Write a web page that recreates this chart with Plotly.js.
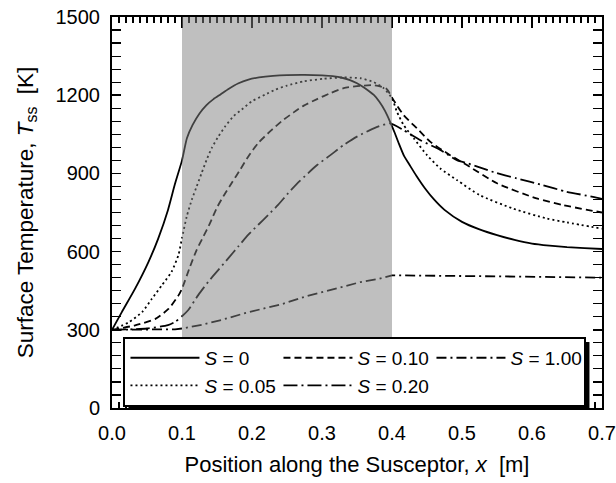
<!DOCTYPE html>
<html>
<head>
<meta charset="utf-8">
<script src="https://cdn.plot.ly/plotly-3.0.1.min.js"></script>
<style>html,body{margin:0;padding:0;background:#fff}#chart{width:616px;height:483px}</style>
</head>
<body>
<div id="chart"></div>
<script>
// ---- data ----
var S0_x = [0, 0.014, 0.033, 0.052, 0.066, 0.08, 0.09, 0.1, 0.107, 0.115, 0.125, 0.135, 0.145, 0.155, 0.167, 0.18, 0.195, 0.21, 0.23, 0.25, 0.275, 0.3, 0.315, 0.33, 0.34, 0.35, 0.362, 0.374, 0.382, 0.39, 0.397, 0.404, 0.41, 0.417, 0.425, 0.435, 0.447, 0.46, 0.475, 0.5, 0.525, 0.55, 0.575, 0.6, 0.625, 0.65, 0.675, 0.7];
var S0_y = [300, 368, 458, 560, 650, 760, 860, 950, 1035, 1085, 1130, 1162, 1185, 1203, 1225, 1245, 1260, 1268, 1274, 1277, 1278, 1276, 1273, 1266, 1258, 1246, 1226, 1201, 1175, 1140, 1100, 1055, 1013, 968, 933, 890, 843, 800, 760, 714, 685, 663, 645, 631, 623, 617, 613, 610];

var S05_x = [0, 0.024, 0.043, 0.057, 0.071, 0.085, 0.095, 0.1, 0.1068, 0.114, 0.121, 0.128, 0.1353, 0.1424, 0.152, 0.1616, 0.1734, 0.1853, 0.1995, 0.2186, 0.233, 0.25, 0.274, 0.302, 0.331, 0.355, 0.374, 0.388, 0.4, 0.407, 0.4165, 0.431, 0.45, 0.469, 0.493, 0.525, 0.573, 0.621, 0.65, 0.7];
var S05_y = [300, 329, 368, 419, 470, 522, 588, 652, 735, 799, 850, 901, 953, 997, 1042, 1080, 1119, 1145, 1176, 1202, 1221, 1237, 1253, 1263, 1268, 1265, 1250, 1227, 1188, 1137, 1086, 1035, 970, 919, 874, 817, 765, 727, 712, 688];

var S10_x = [0, 0.033, 0.062, 0.081, 0.095, 0.1, 0.1116, 0.121, 0.1306, 0.14, 0.1496, 0.159, 0.171, 0.183, 0.1948, 0.209, 0.2258, 0.2423, 0.26, 0.274, 0.293, 0.312, 0.331, 0.355, 0.375, 0.392, 0.402, 0.4165, 0.4356, 0.4545, 0.483, 0.507, 0.55, 0.6065, 0.645, 0.7];
var S10_y = [300, 317, 342, 381, 432, 458, 543, 607, 658, 709, 767, 812, 863, 914, 965, 1017, 1061, 1100, 1135, 1160, 1185, 1208, 1227, 1236, 1238, 1225, 1182, 1124, 1073, 1022, 970, 932, 862, 804, 778, 750];

var S20_x = [0, 0.05, 0.08, 0.09, 0.1, 0.109, 0.1234, 0.1377, 0.152, 0.1663, 0.1805, 0.1948, 0.209, 0.2233, 0.2376, 0.252, 0.268, 0.293, 0.312, 0.331, 0.35, 0.374, 0.3975, 0.4165, 0.44, 0.469, 0.4927, 0.509, 0.545, 0.578, 0.615, 0.649, 0.687, 0.7];
var S20_y = [300, 305, 318, 330, 352, 376, 434, 485, 530, 575, 620, 665, 703, 741, 780, 825, 870, 932, 970, 1009, 1041, 1073, 1092, 1066, 1028, 990, 951, 938, 905, 881, 855, 830, 810, 802];

var S100_x = [0, 0.05, 0.09, 0.1, 0.128, 0.1567, 0.19, 0.2186, 0.2423, 0.279, 0.326, 0.355, 0.382, 0.4, 0.55, 0.7];
var S100_y = [300, 300, 302, 305, 319, 338, 364, 383, 398, 430, 464, 483, 496, 509, 505, 500];

var heatedZone = [0.1, 0.4];
var xTicks = [0, 0.1, 0.2, 0.3, 0.4, 0.5, 0.6, 0.7];
var yTicks = [0, 300, 600, 900, 1200, 1500];

var FONT = '"Liberation Sans", Arial, Helvetica, sans-serif';

function tr(x, y, name, dash, shape) {
  return {x: x, y: y, name: name, type: 'scatter', mode: 'lines',
          line: {color: '#000', width: 1.8, dash: dash, shape: shape, smoothing: 0.6}, hoverinfo: 'skip'};
}

var data = [
  tr(S0_x, S0_y, '<i>S</i> = 0', 'solid', 'spline'),
  tr(S10_x, S10_y, '<i>S</i> = 0.10', '7px,4px', 'spline'),
  tr(S100_x, S100_y, '<i>S</i> = 1.00', '10px,4px,2px,4px', 'linear'),
  tr(S05_x, S05_y, '<i>S</i> = 0.05', '2px,3px', 'spline'),
  tr(S20_x, S20_y, '<i>S</i> = 0.20', '14px,4px,2px,4px', 'spline')
];

var axisCommon = {
  showline: true, linecolor: '#000', linewidth: 2,
  mirror: 'ticks', ticks: 'inside', tickcolor: '#000', tickwidth: 1.5,
  showgrid: false, zeroline: false,
  tickfont: {family: FONT, size: 20, color: '#000'}
};

var layout = {
  width: 616, height: 483,
  margin: {l: 112, r: 14, t: 17, b: 75},
  paper_bgcolor: '#fff', plot_bgcolor: '#fff',
  font: {family: FONT, color: '#000'},
  showlegend: true,
  xaxis: Object.assign({}, axisCommon, {
    range: [0, 0.7], tickvals: xTicks, ticktext: xTicks.map(function(v){return v.toFixed(1);}),
    ticklen: 11, ticklabelstandoff: 6,
    minor: {ticks: 'inside', dtick: 0.01, ticklen: 6, tickwidth: 1.2, tickcolor: '#000', showgrid: false},
    title: {text: 'Position along the Susceptor, <i>x</i>\u00a0\u00a0[m]', font: {family: FONT, size: 22, color: '#000'}, standoff: 14}
  }),
  yaxis: Object.assign({}, axisCommon, {
    range: [0, 1500], tickvals: yTicks, ticklen: 9, ticklabelstandoff: 6,
    minor: {ticks: 'inside', dtick: 50, ticklen: 9, tickwidth: 1.2, tickcolor: '#000', showgrid: false},
    title: {text: 'Surface Temperature, <i>T</i><sub>ss</sub>\u00a0\u00a0[K]', font: {family: FONT, size: 22.5, color: '#000'}, standoff: 16}
  }),
  shapes: [
    {type: 'rect', xref: 'x', yref: 'y', x0: heatedZone[0], x1: heatedZone[1], y0: 0, y1: 1500,
     fillcolor: 'rgba(128,128,128,0.5)', line: {width: 0}, layer: 'above'},
    {type: 'rect', xref: 'paper', yref: 'paper', x0: 0.04, x1: 0.98, y0: 0.015, y1: 0.17,
     fillcolor: '#000', line: {width: 0}, layer: 'above'}
  ],
  legend: {
    orientation: 'h', x: 0.0234, y: 0.1818, xanchor: 'left', yanchor: 'top',
    bgcolor: '#fff', bordercolor: '#000', borderwidth: 2,
    font: {family: FONT, size: 19, color: '#000'},
    itemwidth: 69, entrywidth: 69, traceorder: 'normal', tracegroupgap: 0
  }
};

var gd = document.getElementById('chart');
Plotly.newPlot(gd, data, layout, {displayModeBar: false, staticPlot: true}).then(function () {
  // place the legend's drop shadow 4px right/down of the drawn legend box
  var bg = gd.querySelector('.legend .bg');
  if (!bg) return;
  var r = bg.getBoundingClientRect();
  var p = gd.getBoundingClientRect();
  var s = gd._fullLayout._size;
  var off = 4;
  var L = r.left - p.left + off, R = r.right - p.left + off;
  var T = r.top - p.top + off, B = r.bottom - p.top + off;
  return Plotly.relayout(gd, {
    'shapes[1].x0': (L - s.l) / s.w,
    'shapes[1].x1': (R - s.l) / s.w,
    'shapes[1].y0': (s.t + s.h - B) / s.h,
    'shapes[1].y1': (s.t + s.h - T) / s.h
  });
});
</script>
</body>
</html>
